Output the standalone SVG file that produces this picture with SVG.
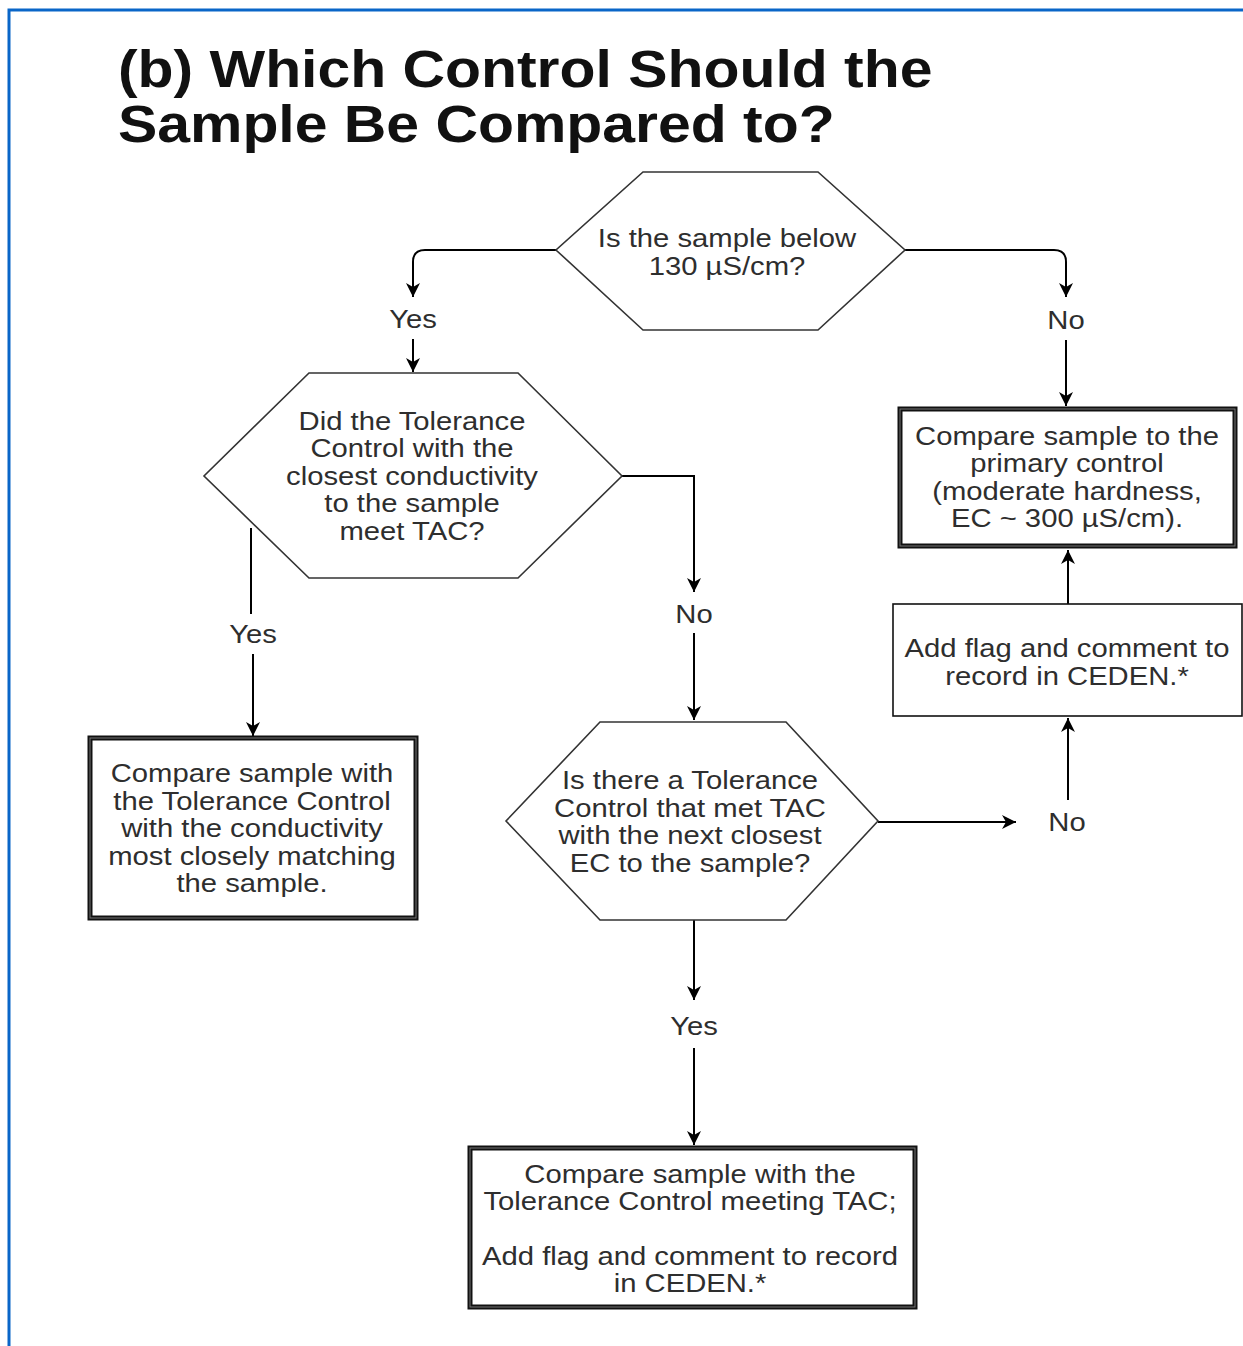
<svg xmlns="http://www.w3.org/2000/svg" width="1243" height="1346" viewBox="0 0 1243 1346">
<defs>
<marker id="arr" markerUnits="userSpaceOnUse" markerWidth="16" markerHeight="16" refX="14" refY="7" orient="auto">
<path d="M0,0 L14,7 L0,14 L4,7 z" fill="#000"/>
</marker>
<style>
.t{font-family:"Liberation Sans",Arial,sans-serif;font-size:25px;fill:#2e2e2e;text-anchor:middle}
.title{font-family:"Liberation Sans",Arial,sans-serif;font-size:51px;font-weight:bold;fill:#111}
.hex{fill:#fff;stroke:#333;stroke-width:1.6}
.box{fill:#fff;stroke:#111;stroke-width:1.6}
.thick{fill:#fff;stroke:#111;stroke-width:5}
.thin{fill:none;stroke:#777;stroke-width:1}
.c{fill:none;stroke:#000;stroke-width:2;marker-end:url(#arr)}
.cl{fill:none;stroke:#000;stroke-width:2}
</style>
</defs>
<rect width="1243" height="1346" fill="#fff"/>
<path d="M9,1346 V10 H1243" fill="none" stroke="#0a66c8" stroke-width="3"/>
<g id="title" transform="translate(118 0) scale(1.155 1)">
<text class="title" x="0" y="87">(b) Which Control Should the</text>
<text class="title" x="0" y="142">Sample Be Compared to?</text>
</g>
<g id="connectors">
<path class="c" d="M556,250 H425 Q413,250 413,262 V297"/>
<path class="c" d="M413,339 V372"/>
<path class="c" d="M905,250 H1054 Q1066,250 1066,262 V297"/>
<path class="c" d="M1066,340 V406"/>
<path class="c" d="M622,476 H694 V592"/>
<path class="c" d="M694,633 V720"/>
<path class="cl" d="M251,528 V614"/>
<path class="c" d="M253,654 V736"/>
<path class="c" d="M694,920 V1000"/>
<path class="c" d="M694,1048 V1145"/>
<path class="c" d="M878,822 H1016"/>
<path class="c" d="M1068,800 V718"/>
<path class="c" d="M1068,604 V550"/>
<g transform="translate(413 0) scale(1.17 1)"><text class="t" x="0" y="328">Yes</text></g>
<g transform="translate(1066 0) scale(1.17 1)"><text class="t" x="0" y="329">No</text></g>
<g transform="translate(694 0) scale(1.17 1)"><text class="t" x="0" y="623">No</text></g>
<g transform="translate(253 0) scale(1.17 1)"><text class="t" x="0" y="643">Yes</text></g>
<g transform="translate(694 0) scale(1.17 1)"><text class="t" x="0" y="1035">Yes</text></g>
<g transform="translate(1067 0) scale(1.17 1)"><text class="t" x="0" y="831">No</text></g>
</g>
<g id="q1">
<polygon class="hex" points="643,172 818,172 905,250 818,330 643,330 556,250"/>
<g transform="translate(727 0) scale(1.17 1)">
<text class="t" x="0" y="247">Is the sample below</text>
<text class="t" x="0" y="275">130 µS/cm?</text>
</g>
</g>
<g id="q2">
<polygon class="hex" points="309,373 518,373 622,476 518,578 309,578 204,476"/>
<g transform="translate(412 0) scale(1.17 1)">
<text class="t" x="0" y="430">Did the Tolerance</text>
<text class="t" x="0" y="457">Control with the</text>
<text class="t" x="0" y="485">closest conductivity</text>
<text class="t" x="0" y="512">to the sample</text>
<text class="t" x="0" y="540">meet TAC?</text>
</g>
</g>
<g id="q3">
<polygon class="hex" points="600,722 786,722 878,821 786,920 600,920 506,821"/>
<g transform="translate(690 0) scale(1.17 1)">
<text class="t" x="0" y="789">Is there a Tolerance</text>
<text class="t" x="0" y="817">Control that met TAC</text>
<text class="t" x="0" y="844">with the next closest</text>
<text class="t" x="0" y="872">EC to the sample?</text>
</g>
</g>
<g id="primary">
<rect class="thick" x="900" y="409" width="335" height="137"/>
<rect class="thin" x="900" y="409" width="335" height="137"/>
<g transform="translate(1067 0) scale(1.17 1)">
<text class="t" x="0" y="445">Compare sample to the</text>
<text class="t" x="0" y="472">primary control</text>
<text class="t" x="0" y="500">(moderate hardness,</text>
<text class="t" x="0" y="527">EC ~ 300 µS/cm).</text>
</g>
</g>
<g id="flag">
<rect class="box" x="893" y="604" width="349" height="112"/>
<g transform="translate(1067 0) scale(1.17 1)">
<text class="t" x="0" y="657">Add flag and comment to</text>
<text class="t" x="0" y="685">record in CEDEN.*</text>
</g>
</g>
<g id="closest">
<rect class="thick" x="90" y="738" width="326" height="180"/>
<rect class="thin" x="90" y="738" width="326" height="180"/>
<g transform="translate(252 0) scale(1.17 1)">
<text class="t" x="0" y="782">Compare sample with</text>
<text class="t" x="0" y="810">the Tolerance Control</text>
<text class="t" x="0" y="837">with the conductivity</text>
<text class="t" x="0" y="865">most closely matching</text>
<text class="t" x="0" y="892">the sample.</text>
</g>
</g>
<g id="tolerance">
<rect class="thick" x="470" y="1148" width="445" height="159"/>
<rect class="thin" x="470" y="1148" width="445" height="159"/>
<g transform="translate(690 0) scale(1.17 1)">
<text class="t" x="0" y="1183">Compare sample with the</text>
<text class="t" x="0" y="1210">Tolerance Control meeting TAC;</text>
<text class="t" x="0" y="1265">Add flag and comment to record</text>
<text class="t" x="0" y="1292">in CEDEN.*</text>
</g>
</g>
</svg>
